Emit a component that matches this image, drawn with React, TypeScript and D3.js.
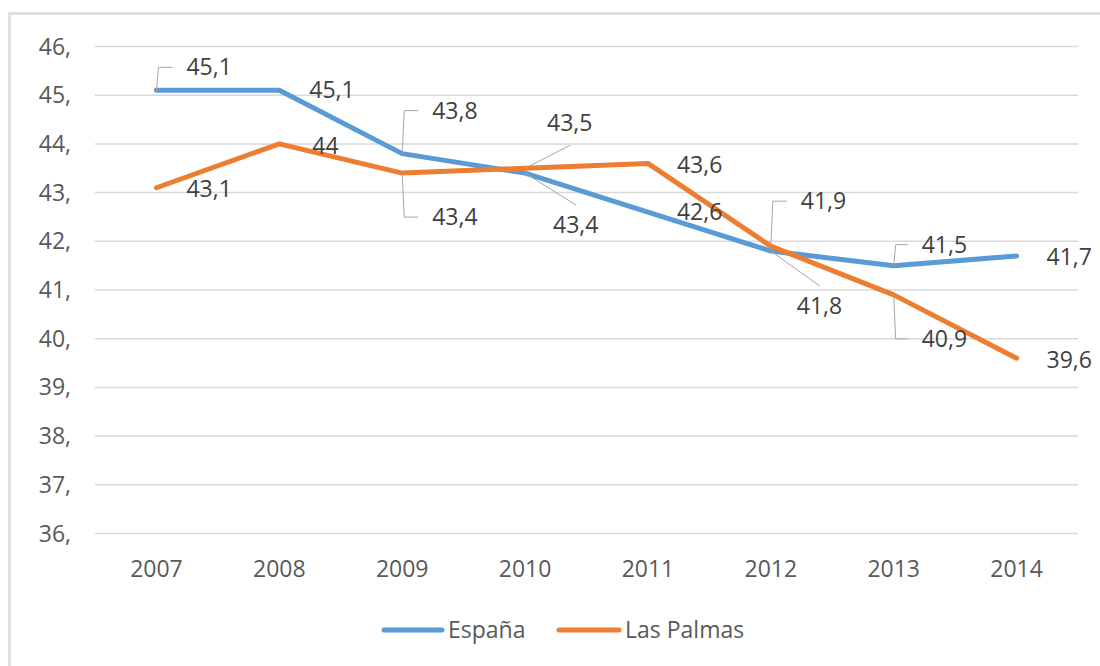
import React from "react";
import * as d3 from "d3";

const years = ["2007", "2008", "2009", "2010", "2011", "2012", "2013", "2014"];
const espana = [45.1, 45.1, 43.8, 43.4, 42.6, 41.8, 41.5, 41.7];
const lasPalmas = [43.1, 44, 43.4, 43.5, 43.6, 41.9, 40.9, 39.6];
const yTicks = [36, 37, 38, 39, 40, 41, 42, 43, 44, 45, 46];
const seriesNames = ["España", "Las Palmas"];

// label placement: [dx, dy, leader type]
const espanaLabelPos: [number, number, string][] = [
  [30, -23, "bracket"],
  [30, 0, "none"],
  [30, -43, "bracket"],
  [28, 52, "diag"],
  [29, 0, "none"],
  [26, 55, "diag"],
  [28, -21, "bracket"],
  [30, 1, "none"],
];
const palmasLabelPos: [number, number, string][] = [
  [30, 1, "none"],
  [33, 2, "none"],
  [30, 44, "bracket"],
  [22, -45, "diag"],
  [29, 2, "none"],
  [30, -45, "bracket"],
  [28, 44, "bracket"],
  [30, 2, "none"],
];

const W = 1100;
const H = 666;
const FONT = "'Open Sans', Lato, sans-serif";
const FS = 23;
const BLUE = "#5B9BD5";
const ORANGE = "#ED7D31";

const fmt = (v: number) => String(v).replace(".", ",");

export default function App() {
  const x = d3.scalePoint<string>().domain(years).range([95, 1078]).padding(0.5);
  const y = d3.scaleLinear().domain([36, 46]).range([533.5, 46.5]);
  const line = d3
    .line<number>()
    .x((_, i) => x(years[i]) as number)
    .y((d) => y(d));

  const series = [
    { name: seriesNames[0], values: espana, color: BLUE, pos: espanaLabelPos },
    { name: seriesNames[1], values: lasPalmas, color: ORANGE, pos: palmasLabelPos },
  ];

  const labels: React.ReactNode[] = [];
  series.forEach((s, si) => {
    s.values.forEach((v, i) => {
      const px = x(years[i]) as number;
      const py = y(v);
      const [dx, dy, kind] = s.pos[i];
      const tx = px + dx;
      const ty = py + dy;
      let leader: React.ReactNode = null;
      if (kind === "bracket") {
        leader = (
          <polyline
            points={`${px},${py} ${px + 2},${ty} ${tx - 14},${ty}`}
            fill="none"
            stroke="#a6a6a6"
            strokeWidth={1}
          />
        );
      } else if (kind === "diag") {
        const ey = dy > 0 ? ty - 20 : ty + 22;
        leader = (
          <line x1={px} y1={py} x2={tx + 23} y2={ey} stroke="#a6a6a6" strokeWidth={1} />
        );
      }
      labels.push(
        <g key={`${si}-${i}`}>
          {leader}
          <text
            x={tx}
            y={ty}
            dy="0.35em"
            fontSize={FS}
            fill="#404040"
            fontFamily={FONT}
          >
            {fmt(v)}
          </text>
        </g>
      );
    });
  });

  return (
    <svg
      width={W}
      height={H}
      style={{ position: "fixed", left: 0, top: 0, background: "#fff" }}
    >
      <rect x={0} y={0} width={W} height={H} fill="#fff" />
      <rect x={9.5} y={13.5} width={W + 20} height={H + 20} fill="#fff" stroke="#d9d9d9" strokeWidth={2.5} />
      {yTicks.map((t) => (
        <g key={t}>
          <line x1={95} x2={1078} y1={y(t)} y2={y(t)} stroke="#d9d9d9" strokeWidth={1.5} />
          <text
            x={71}
            y={y(t)}
            dy="0.35em"
            textAnchor="end"
            fontSize={FS}
            fill="#595959"
            fontFamily={FONT}
          >
            {t + ","}
          </text>
        </g>
      ))}
      {years.map((yr) => (
        <text
          key={yr}
          x={x(yr) as number}
          y={569}
          dy="0.35em"
          textAnchor="middle"
          fontSize={FS}
          fill="#595959"
          fontFamily={FONT}
        >
          {yr}
        </text>
      ))}
      {series.map((s) => (
        <path
          key={s.name}
          d={line(s.values) || ""}
          fill="none"
          stroke={s.color}
          strokeWidth={5}
          strokeLinejoin="round"
          strokeLinecap="round"
        />
      ))}
      {labels}
      <g fontFamily={FONT} fontSize={FS} fill="#595959">
        <line x1={384} x2={442} y1={630} y2={630} stroke={BLUE} strokeWidth={5} strokeLinecap="round" />
        <text x={448} y={630} dy="0.35em">{seriesNames[0]}</text>
        <line x1={559} x2={619} y1={630} y2={630} stroke={ORANGE} strokeWidth={5} strokeLinecap="round" />
        <text x={625} y={630} dy="0.35em">{seriesNames[1]}</text>
      </g>
    </svg>
  );
}
